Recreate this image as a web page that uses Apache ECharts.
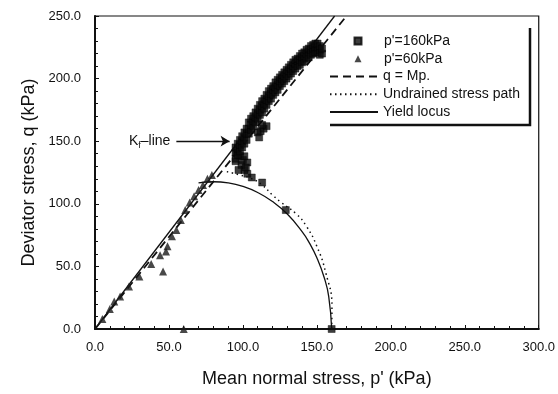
<!DOCTYPE html>
<html>
<head>
<meta charset="utf-8">
<script src="https://cdn.jsdelivr.net/npm/echarts@6/dist/echarts.min.js"></script>
<style>
html,body{margin:0;padding:0;background:#fff;}
#chart{width:558px;height:394px;}
</style>
</head>
<body>
<div id="chart"></div>
<script>
// ---- Data ----
var xTicks = [0, 50, 100, 150, 200, 250, 300];
var yTicks = [0, 50, 100, 150, 200, 250];

// p'=160kPa test (squares)
var test160 = [
  [160,0],[129,95],[113,117],[106,121],[103,124],[101,127],[99,131],[100,135],
  [98,138],[96,141],[103,133],[101,138],[95,134],[102,129],[97,127],
  [110,157],[112,158],[114,160],[116,162],[113,163],[111,153],
  [95,136],[95,141],[95,145],
  [96.5,139],[96.5,144],[96.5,148],
  [98,142],[98,147],[98,151],
  [99.5,145],[99.5,150],[99.5,154],
  [101,148],[101,153],[101,157],
  [102.5,151],[102.5,156],[102.5,160],
  [104,156],[104,160],[104,165],
  [105.5,159],[105.5,163],[105.5,168],
  [107,162],[107,166],[107,170],
  [108.5,165],[108.5,169],[108.5,173],
  [110,168],[110,172],[110,176],
  [111.5,171],[111.5,175],[111.5,179],
  [113,173],[113,178],[113,182],
  [114.5,176],[114.5,180],[114.5,184],
  [116,179],[116,183],[116,187],
  [117.5,182],[117.5,186],[117.5,190],
  [119,184],[119,188],[119,192],
  [120.5,187],[120.5,191],[120.5,194],
  [122,189],[122,193],[122,197],
  [123.5,191],[123.5,195],[123.5,199],
  [125,194],[125,198],[125,201],
  [126.5,196],[126.5,200],[126.5,203],
  [128,198],[128,202],[128,205],
  [129.5,200],[129.5,204],[129.5,207],
  [131,202],[131,206],[131,209],
  [132.5,204],[132.5,208],[132.5,211],
  [134,206],[134,210],[134,213],
  [135.5,208],[135.5,212],[135.5,215],
  [137,210],[137,214],[137,216],
  [138.5,211],[138.5,215],[138.5,218],
  [140,213],[140,217],[140,220],
  [141.5,214],[141.5,218],[141.5,221],
  [143,216],[143,220],[143,223],
  [144.5,217],[144.5,221],[144.5,224],
  [146,219],[146,223],[146,226],
  [147.5,220],[147.5,224],[147.5,227],
  [149,221],[149,225],[149,228],
  [150.5,221],[150.5,225],[150.5,228],
  [152,219],[152,223],[152,226],
  [153.5,220],[153.5,224]
];

// p'=60kPa test (triangles)
var test60 = [
  [60,0],[46,46],[48,62],
  [5,8],[10,16],[13,22],[17,26],[23,34],[30,42],[38,52],[44,59],[49,66],[52,74],
  [55,79],[58,87],[61,95],[64,101],[67,106],[70,111],[73,115],[76,120],[79,123]
];

// q = Mp (dashed critical state line)
var mpLine = [[0,0],[170,250]];

// K_f line (solid straight line, unlabeled)
var kfLine = [[0,0],[162,250]];

// Undrained stress path (dotted)
var undrained = [
  [160,0],[160.2,18],[156,45],[150,66],[143,82],[136,92],[126,101],[120,107],
  [113,115],[106,120],[98,123],[88,126]
];

// Yield locus (solid curve)
var yieldLocus = [
  [70,116.7],[80,117.6],[90,116.7],[100,113.9],[110,109],[120,101.8],[130,91.8],
  [140,77.8],[145,68.6],[150,56.9],[155,40.9],[158,26.1],[160,0]
];

var scatterNames = ["p'=160kPa", "p'=60kPa"];
var lineNames = ["q = Mp.", "Undrained stress path", "Yield locus"];

var chart = echarts.init(document.getElementById('chart'), null, {renderer:'canvas'});
var black = '#111';
var fontFam = 'Liberation Sans, Arial, sans-serif';

var option = {
  animation: false,
  backgroundColor: '#fff',
  grid: {left: 95, right: 17, top: 16, bottom: 65, show: true, borderColor: black, borderWidth: 1.2, backgroundColor: 'transparent'},
  xAxis: {
    type: 'value', min: 0, max: 300, interval: 50,
    name: "Mean normal stress, p' (kPa)", nameLocation: 'middle', nameGap: 41,
    nameTextStyle: {fontSize: 18, color: black, fontFamily: fontFam},
    axisLine: {lineStyle: {color: black, width: 2}},
    axisTick: {inside: true, length: 4, lineStyle: {color: black}},
    minorTick: {show: true, splitNumber: 5, length: 3, lineStyle: {color: black}},
    splitLine: {show: false},
    axisLabel: {fontSize: 13, color: black, margin: 12, fontFamily: fontFam,
      formatter: function(v){ return v.toFixed(1); }}
  },
  yAxis: {
    type: 'value', min: 0, max: 250, interval: 50,
    name: 'Deviator stress, q (kPa)', nameLocation: 'middle', nameGap: 51,
    nameTextStyle: {fontSize: 18, color: black, fontFamily: fontFam},
    axisLine: {lineStyle: {color: black, width: 2}},
    axisTick: {inside: true, length: 4, lineStyle: {color: black}},
    minorTick: {show: true, splitNumber: 5, length: 3, lineStyle: {color: black}},
    splitLine: {show: false},
    axisLabel: {fontSize: 13, color: black, margin: 14, fontFamily: fontFam,
      formatter: function(v){ return v.toFixed(1); }}
  },
  legend: [
    {
      data: scatterNames, orient: 'vertical', left: 353.5, top: 34,
      itemWidth: 7, itemHeight: 7, itemGap: 3.75, padding: 0,
      textStyle: {fontSize: 14, color: black, fontFamily: fontFam, lineHeight: 14, padding: [0,0,0,17.5]}
    },
    {
      data: lineNames, orient: 'vertical', left: 329, top: 69.5,
      itemWidth: 48, itemHeight: 10, itemGap: 3.75, padding: 0,
      itemStyle: {color: 'rgba(0,0,0,0)', borderColor: 'rgba(0,0,0,0)', borderWidth: 0},
      textStyle: {fontSize: 14, color: black, fontFamily: fontFam, lineHeight: 14}
    }
  ],
  graphic: [
    {type: 'polyline', silent: true, shape: {points: [[330,125],[530,125],[530,28]]},
     style: {stroke: black, lineWidth: 2.5, fill: null}}
  ],
  series: [
    {name: 'Kf', type: 'line', data: kfLine, symbol: 'none', lineStyle: {color: black, width: 1.3}, z: 3,
     markLine: {silent: true, symbol: ['none','arrow'], symbolSize: [8, 9],
       lineStyle: {color: black, width: 1.3, type: 'solid'},
       label: {show: true, position: 'start', distance: 6, color: black, fontFamily: fontFam,
         formatter: '{k|K}{s|f}{k|–line}',
         rich: {k: {fontSize: 14, color: black, fontFamily: fontFam}, s: {fontSize: 9, color: black, verticalAlign: 'bottom', padding: [8,0,0,0], fontFamily: fontFam}}},
       data: [[{coord: [55,150]}, {coord: [91,150]}]]}},
    {name: "q = Mp.", type: 'line', data: mpLine, symbol: 'none',
     lineStyle: {color: black, width: 1.8, type: [8,5]}, itemStyle: {color: black}, z: 3},
    {name: 'Undrained stress path', type: 'line', data: undrained, symbol: 'none', smooth: true,
     lineStyle: {color: black, width: 1.5, type: [1.5,3.5]}, itemStyle: {color: black}, z: 3},
    {name: 'Yield locus', type: 'line', data: yieldLocus, symbol: 'none', smooth: true,
     lineStyle: {color: black, width: 1.3}, itemStyle: {color: black}, z: 3},
    {name: "p'=160kPa", type: 'scatter', data: test160, symbol: 'rect', symbolSize: 7,
     itemStyle: {color: '#0d0d0d', borderColor: '#000', borderWidth: 0.5}, z: 4},
    {name: "p'=60kPa", type: 'scatter', data: test60, symbol: 'triangle', symbolSize: 8,
     itemStyle: {color: '#1a1a1a'}, z: 4}
  ]
};
chart.setOption(option);
</script>
</body>
</html>
